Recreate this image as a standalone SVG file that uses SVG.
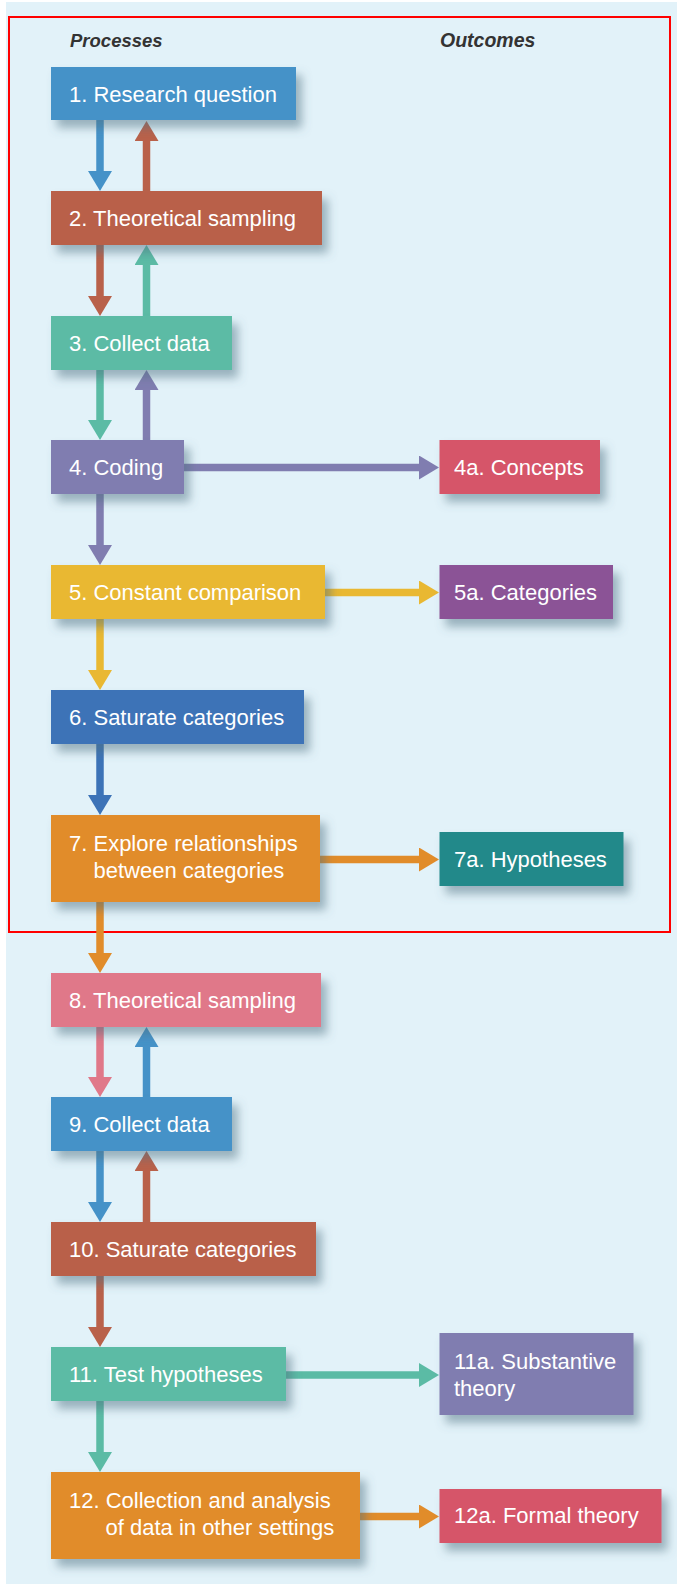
<svg xmlns="http://www.w3.org/2000/svg" width="677" height="1584" viewBox="0 0 677 1584">
<defs>
<filter id="sh" x="-15%" y="-30%" width="140%" height="180%">
<feDropShadow dx="6" dy="8" stdDeviation="5" flood-color="#4f6f80" flood-opacity="0.5"/>
</filter>
<marker id="m-blue" viewBox="0 0 20 24" markerWidth="20" markerHeight="24" refX="0" refY="12" orient="auto" markerUnits="userSpaceOnUse"><path d="M0,0 L20,12 L0,24 Z" fill="#4592C8"/></marker>
<marker id="m-brown" viewBox="0 0 20 24" markerWidth="20" markerHeight="24" refX="0" refY="12" orient="auto" markerUnits="userSpaceOnUse"><path d="M0,0 L20,12 L0,24 Z" fill="#B9614A"/></marker>
<marker id="m-teal" viewBox="0 0 20 24" markerWidth="20" markerHeight="24" refX="0" refY="12" orient="auto" markerUnits="userSpaceOnUse"><path d="M0,0 L20,12 L0,24 Z" fill="#5BBBA5"/></marker>
<marker id="m-purple" viewBox="0 0 20 24" markerWidth="20" markerHeight="24" refX="0" refY="12" orient="auto" markerUnits="userSpaceOnUse"><path d="M0,0 L20,12 L0,24 Z" fill="#807DB0"/></marker>
<marker id="m-yellow" viewBox="0 0 20 24" markerWidth="20" markerHeight="24" refX="0" refY="12" orient="auto" markerUnits="userSpaceOnUse"><path d="M0,0 L20,12 L0,24 Z" fill="#E9B832"/></marker>
<marker id="m-dblue" viewBox="0 0 20 24" markerWidth="20" markerHeight="24" refX="0" refY="12" orient="auto" markerUnits="userSpaceOnUse"><path d="M0,0 L20,12 L0,24 Z" fill="#3C73B7"/></marker>
<marker id="m-orange" viewBox="0 0 20 24" markerWidth="20" markerHeight="24" refX="0" refY="12" orient="auto" markerUnits="userSpaceOnUse"><path d="M0,0 L20,12 L0,24 Z" fill="#E18C2A"/></marker>
<marker id="m-pink" viewBox="0 0 20 24" markerWidth="20" markerHeight="24" refX="0" refY="12" orient="auto" markerUnits="userSpaceOnUse"><path d="M0,0 L20,12 L0,24 Z" fill="#E07889"/></marker>
</defs>
<style>
.t{font-family:"Liberation Sans",Arial,sans-serif;font-size:22px;fill:#ffffff;}
.h{font-family:"Liberation Sans",Arial,sans-serif;font-size:18.5px;font-weight:bold;font-style:italic;fill:#333333;}
.b{filter:url(#sh);}
.c{fill:none;stroke-width:7.5;}
</style>
<rect x="0" y="0" width="677" height="1584" fill="#ffffff"/>
<rect x="6" y="2" width="671" height="1582" fill="#E2F2F9"/>
<rect x="9" y="17" width="661" height="915" fill="none" stroke="#FF0000" stroke-width="2"/>
<text class="h" x="70" y="47">Processes</text>
<text class="h" x="440" y="47" style="font-size:19.5px">Outcomes</text>

<g id="connectors">
<line class="c" stroke="#4592C8" x1="100" y1="120" x2="100" y2="171" marker-end="url(#m-blue)"/>
<line class="c" stroke="#B9614A" x1="146.5" y1="191" x2="146.5" y2="141" marker-end="url(#m-brown)"/>
<line class="c" stroke="#B9614A" x1="100" y1="245" x2="100" y2="296" marker-end="url(#m-brown)"/>
<line class="c" stroke="#5BBBA5" x1="146.5" y1="316" x2="146.5" y2="265" marker-end="url(#m-teal)"/>
<line class="c" stroke="#5BBBA5" x1="100" y1="370" x2="100" y2="420" marker-end="url(#m-teal)"/>
<line class="c" stroke="#807DB0" x1="146.5" y1="440" x2="146.5" y2="390" marker-end="url(#m-purple)"/>
<line class="c" stroke="#807DB0" x1="184" y1="467.5" x2="419" y2="467.5" marker-end="url(#m-purple)"/>
<line class="c" stroke="#807DB0" x1="100" y1="494" x2="100" y2="545" marker-end="url(#m-purple)"/>
<line class="c" stroke="#E9B832" x1="325" y1="592.5" x2="419" y2="592.5" marker-end="url(#m-yellow)"/>
<line class="c" stroke="#E9B832" x1="100" y1="619" x2="100" y2="670" marker-end="url(#m-yellow)"/>
<line class="c" stroke="#3C73B7" x1="100" y1="744" x2="100" y2="795" marker-end="url(#m-dblue)"/>
<line class="c" stroke="#E18C2A" x1="320" y1="859.5" x2="419" y2="859.5" marker-end="url(#m-orange)"/>
<line class="c" stroke="#E18C2A" x1="100" y1="902" x2="100" y2="953" marker-end="url(#m-orange)"/>
<line class="c" stroke="#E07889" x1="100" y1="1027" x2="100" y2="1077" marker-end="url(#m-pink)"/>
<line class="c" stroke="#4592C8" x1="146.5" y1="1097" x2="146.5" y2="1047" marker-end="url(#m-blue)"/>
<line class="c" stroke="#4592C8" x1="100" y1="1151" x2="100" y2="1202" marker-end="url(#m-blue)"/>
<line class="c" stroke="#B9614A" x1="146.5" y1="1222" x2="146.5" y2="1171" marker-end="url(#m-brown)"/>
<line class="c" stroke="#B9614A" x1="100" y1="1276" x2="100" y2="1327" marker-end="url(#m-brown)"/>
<line class="c" stroke="#5BBBA5" x1="286" y1="1375" x2="419" y2="1375" marker-end="url(#m-teal)"/>
<line class="c" stroke="#5BBBA5" x1="100" y1="1401" x2="100" y2="1452" marker-end="url(#m-teal)"/>
<line class="c" stroke="#E18C2A" x1="360" y1="1516.5" x2="419" y2="1516.5" marker-end="url(#m-orange)"/>
</g>

<g id="n1"><rect class="b" x="51" y="67" width="245" height="53" fill="#4592C8"/><text class="t" x="69" y="102">1. Research question</text></g>
<g id="n2"><rect class="b" x="51" y="191" width="271" height="54" fill="#B9614A"/><text class="t" x="69" y="226">2. Theoretical sampling</text></g>
<g id="n3"><rect class="b" x="51" y="316" width="181" height="54" fill="#5BBBA5"/><text class="t" x="69" y="351">3. Collect data</text></g>
<g id="n4"><rect class="b" x="51" y="440" width="133" height="54" fill="#807DB0"/><text class="t" x="69" y="475">4. Coding</text></g>
<g id="n4a"><rect class="b" x="439.5" y="440" width="160.5" height="54" fill="#D65569"/><text class="t" x="454" y="475">4a. Concepts</text></g>
<g id="n5"><rect class="b" x="51" y="565" width="274" height="54" fill="#E9B832"/><text class="t" x="69" y="600">5. Constant comparison</text></g>
<g id="n5a"><rect class="b" x="439.5" y="565" width="173.5" height="54" fill="#8B5396"/><text class="t" x="454" y="600">5a. Categories</text></g>
<g id="n6"><rect class="b" x="51" y="690" width="253" height="54" fill="#3C73B7"/><text class="t" x="69" y="725">6. Saturate categories</text></g>
<g id="n7"><rect class="b" x="51" y="815" width="269" height="87" fill="#E18C2A"/><text class="t" x="69" y="851">7. Explore relationships</text><text class="t" x="93.5" y="878">between categories</text></g>
<g id="n7a"><rect class="b" x="439.5" y="832" width="184" height="54" fill="#20898A"/><text class="t" x="454" y="867">7a. Hypotheses</text></g>
<g id="n8"><rect class="b" x="51" y="973" width="270" height="54" fill="#E07889"/><text class="t" x="69" y="1008">8. Theoretical sampling</text></g>
<g id="n9"><rect class="b" x="51" y="1097" width="181" height="54" fill="#4592C8"/><text class="t" x="69" y="1132">9. Collect data</text></g>
<g id="n10"><rect class="b" x="51" y="1222" width="265" height="54" fill="#B9614A"/><text class="t" x="69" y="1257">10. Saturate categories</text></g>
<g id="n11"><rect class="b" x="51" y="1347" width="235" height="54" fill="#5BBBA5"/><text class="t" x="69" y="1382">11. Test hypotheses</text></g>
<g id="n11a"><rect class="b" x="439.5" y="1333" width="194" height="82" fill="#807DB0"/><text class="t" x="454" y="1369">11a. Substantive</text><text class="t" x="454" y="1396">theory</text></g>
<g id="n12"><rect class="b" x="51" y="1472" width="309" height="87" fill="#E18C2A"/><text class="t" x="69" y="1508">12. Collection and analysis</text><text class="t" x="105.5" y="1535">of data in other settings</text></g>
<g id="n12a"><rect class="b" x="439.5" y="1489" width="222" height="54" fill="#D65569"/><text class="t" x="454" y="1523">12a. Formal theory</text></g>
</svg>
